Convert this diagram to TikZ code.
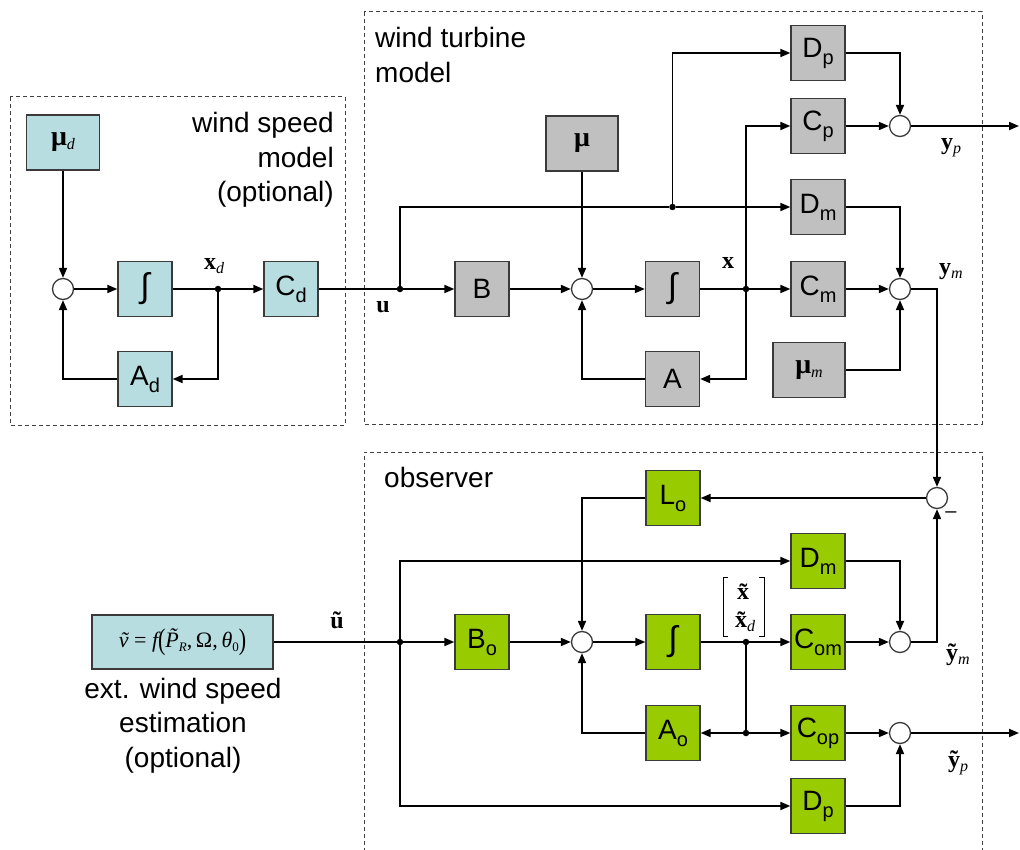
\documentclass[tikz,border=0pt]{standalone}
\usepackage{fontspec}
\setmainfont{Liberation Sans}
\newfontfamily\tms{Liberation Serif}
\usetikzlibrary{arrows.meta}

\definecolor{wsblue}{HTML}{B7DDE1}
\definecolor{wtgray}{HTML}{C0C0C0}
\definecolor{obgreen}{HTML}{99CC00}
\definecolor{boxedge}{HTML}{3A3A3A}

% block label with lowered sans subscript
\newcommand{\blk}[2]{#1\raisebox{-7pt}{\fontsize{20}{20}\selectfont #2}}
% bold serif signal name, with and without an italic subscript
\newcommand{\sig}[2]{{\tms\bfseries #1}\raisebox{-4pt}{\tms\itshape\fontsize{16}{16}\selectfont #2}}
\newcommand{\sigb}[1]{{\tms\bfseries #1}}
% small lowered subscript for the estimation formula
\newcommand{\fsub}[1]{\raisebox{-4pt}{\fontsize{13}{13}\selectfont #1}}
\newcommand{\tallpar}[1]{\raisebox{-2pt}{\scalebox{1}[1.35]{\upshape #1}}}

\begin{document}
\begin{tikzpicture}[x=1pt,y=-1pt,
  >={Triangle[length=10pt,width=8pt]},
  wire/.style={line width=1.8pt},
  blockbase/.style={draw=boxedge, line width=1.3pt, minimum width=54pt, minimum height=55pt,
    inner sep=0pt, font=\fontsize{28}{28}\selectfont},
  wsbox/.style={blockbase, fill=wsblue},
  wtbox/.style={blockbase, fill=wtgray},
  obbox/.style={blockbase, fill=obgreen},
  intsym/.style={font=\fontsize{34}{34}\selectfont},
  sumj/.style={circle, draw=boxedge, fill=white, line width=1.3pt, minimum size=21pt, inner sep=0pt},
  dotj/.style={circle, fill=black, minimum size=6.5pt, inner sep=0pt},
  frame/.style={draw=black!75, line width=1pt, dash pattern=on 4pt off 3pt},
  siglab/.style={inner sep=0pt, font=\fontsize{24}{24}\selectfont},
  title/.style={inner sep=0pt, font=\fontsize{28}{34.5}\selectfont}]

\useasboundingbox (0,0) rectangle (1020,850);

% ---------- dashed frames ----------
\draw[frame] (10,97) rectangle (345,425);
\draw[frame] (364,12) rectangle (982,424);
\draw[frame] (364,852) -- (364,452) -- (982,452) -- (982,852);

\node[title, align=right, anchor=east] (wsmtxt) at (334,160) {wind speed\\model\\(optional)};
\node[title, align=left, anchor=west] (wttxt) at (375,55) {wind turbine\\model};
\node[title, anchor=west] (obstxt) at (384,477) {observer};

% ---------- wind speed model ----------
\node[wsbox, minimum width=73pt] (mud) at (63,142.5) {\sig{μ}{d}};
\node[sumj] (sd) at (63,289) {};
\node[wsbox, intsym] (intd) at (145,289) {∫};
\node[wsbox] (Cd) at (291,289) {\blk{C}{d}};
\node[wsbox] (Ad) at (145,379) {\blk{A}{d}};
\node[dotj] (xd) at (218,289) {};
\node[siglab] (xdlab) at (214,266) {\sig{x}{d}};

\draw[wire,->] (mud) -- (sd);
\draw[wire,->] (sd) -- (intd);
\draw[wire] (intd) -- (xd);
\draw[wire,->] (xd) -- (Cd);
\draw[wire,->] (xd) |- (Ad);
\draw[wire,->] (Ad) -| (sd);

% ---------- wind turbine model ----------
\node[wtbox] (Dp) at (818,53) {\blk{D}{p}};
\node[wtbox] (Cp) at (818,126) {\blk{C}{p}};
\node[wtbox, minimum width=72pt] (mu) at (582,143.5) {\sigb{μ}};
\node[wtbox] (Dm) at (818,207) {\blk{D}{m}};
\node[wtbox] (B) at (482,289) {B};
\node[sumj] (s1) at (582,289) {};
\node[wtbox, intsym] (int) at (672.5,289) {∫};
\node[wtbox] (Cm) at (818,289) {\blk{C}{m}};
\node[sumj] (sm) at (900,289) {};
\node[wtbox] (A) at (672.5,379) {A};
\node[wtbox, minimum width=72pt] (mum) at (809,370) {\sig{μ}{m}};
\node[sumj] (sp) at (900,126) {};
\node[dotj] (u) at (400,289) {};
\node[dotj] (ub) at (672.5,207) {};
\node[dotj] (xx) at (746,289) {};
\coordinate (ypend) at (1019,126);

\node[siglab] (ulab) at (383,307) {\sigb{u}};
\node[siglab] (xlab) at (728,263) {\sigb{x}};
\node[siglab] (yplab) at (951,148) {\sig{y}{p}};
\node[siglab] (ymlab) at (951,272) {\sig{y}{m}};

\draw[wire] (Cd) -- (u);
\draw[wire,->] (u) -- (B);
\draw[wire] (u) |- (ub);
\draw[wire,->] (ub) -- (Dm);
\draw[wire,->] (ub) |- (Dp);
\draw[wire,->] (mu) -- (s1);
\draw[wire,->] (B) -- (s1);
\draw[wire,->] (s1) -- (int);
\draw[wire] (int) -- (xx);
\draw[wire,->] (xx) -- (Cm);
\draw[wire,->] (xx) |- (Cp);
\draw[wire,->] (xx) |- (A);
\draw[wire,->] (A) -| (s1);
\draw[wire,->] (Dp) -| (sp);
\draw[wire,->] (Cp) -- (sp);
\draw[wire,->] (sp) -- (ypend);
\draw[wire,->] (Dm) -| (sm);
\draw[wire,->] (Cm) -- (sm);
\draw[wire,->] (mum) -| (sm);

% ---------- observer ----------
\node[sumj] (sn) at (937,498) {};
\node[obbox] (Lo) at (673,498) {\blk{L}{o}};
\node[obbox] (Dm2) at (818,561) {\blk{D}{m}};
\node[obbox] (Bo) at (482,642) {\blk{B}{o}};
\node[sumj] (so) at (582,642) {};
\node[obbox, intsym] (into) at (673,642) {∫};
\node[obbox] (Com) at (818,642) {\blk{C}{om}};
\node[sumj] (sym) at (900,642) {};
\node[obbox] (Ao) at (673,733) {\blk{A}{o}};
\node[obbox] (Cop) at (818,733) {\blk{C}{op}};
\node[sumj] (syp) at (900,733) {};
\node[obbox] (Dp2) at (818,806) {\blk{D}{p}};
\node[dotj] (ut) at (400,642) {};
\node[dotj] (xt) at (746,642) {};
\node[dotj] (xt2) at (746,733) {};
\coordinate (ytpend) at (1019,733);

\node[draw=boxedge, line width=1.3pt, fill=wsblue, minimum width=181pt, minimum height=54pt,
  inner sep=0pt, font=\fontsize{22}{22}\selectfont\tms\itshape] (est) at (182.5,642)
  {v^^^^0303\ {\upshape =}\ f\tallpar{(}P^^^^0303\fsub{R}{\upshape ,\,Ω,\,}θ\fsub{\upshape 0}\tallpar{)}};
\node[title, align=center, anchor=north] (exttxt) at (183,678) {ext. wind speed\\estimation\\(optional)};

\node[siglab] (utlab) at (337,620) {\sigb{ũ}};
\node[siglab] (ytmlab) at (958,655) {\sig{ỹ}{m}};
\node[siglab] (ytplab) at (958,763) {\sig{ỹ}{p}};
\node[inner sep=0pt, font=\fontsize{20}{20}\selectfont] (minus) at (951,515) {–};

% stacked state label [x~ ; x~_d]
\node[siglab] (xtlab) at (743,592) {\sigb{x^^^^0303}};
\node[siglab] (xtdlab) at (745,622) {\sig{x^^^^0303}{d}};
\draw[line width=0.8pt] (728,577) -- (723,577) -- (723,636) -- (728,636);
\draw[line width=0.8pt] (759,577) -- (764,577) -- (764,636) -- (759,636);

\draw[wire,->] (sm) -| (sn);
\draw[wire,->] (sn) -- (Lo);
\draw[wire,->] (Lo) -| (so);
\draw[wire] (est) -- (ut);
\draw[wire,->] (ut) -- (Bo);
\draw[wire,->] (ut) |- (Dm2);
\draw[wire,->] (ut) |- (Dp2);
\draw[wire,->] (Bo) -- (so);
\draw[wire,->] (so) -- (into);
\draw[wire] (into) -- (xt);
\draw[wire,->] (xt) -- (Com);
\draw[wire] (xt) -- (xt2);
\draw[wire,->] (xt2) -- (Ao);
\draw[wire,->] (xt2) -- (Cop);
\draw[wire,->] (Ao) -| (so);
\draw[wire,->] (Dm2) -| (sym);
\draw[wire,->] (Com) -- (sym);
\draw[wire,->] (sym) -| (sn);
\draw[wire,->] (Cop) -- (syp);
\draw[wire,->] (Dp2) -| (syp);
\draw[wire,->] (syp) -- (ytpend);

\end{tikzpicture}
\end{document}
